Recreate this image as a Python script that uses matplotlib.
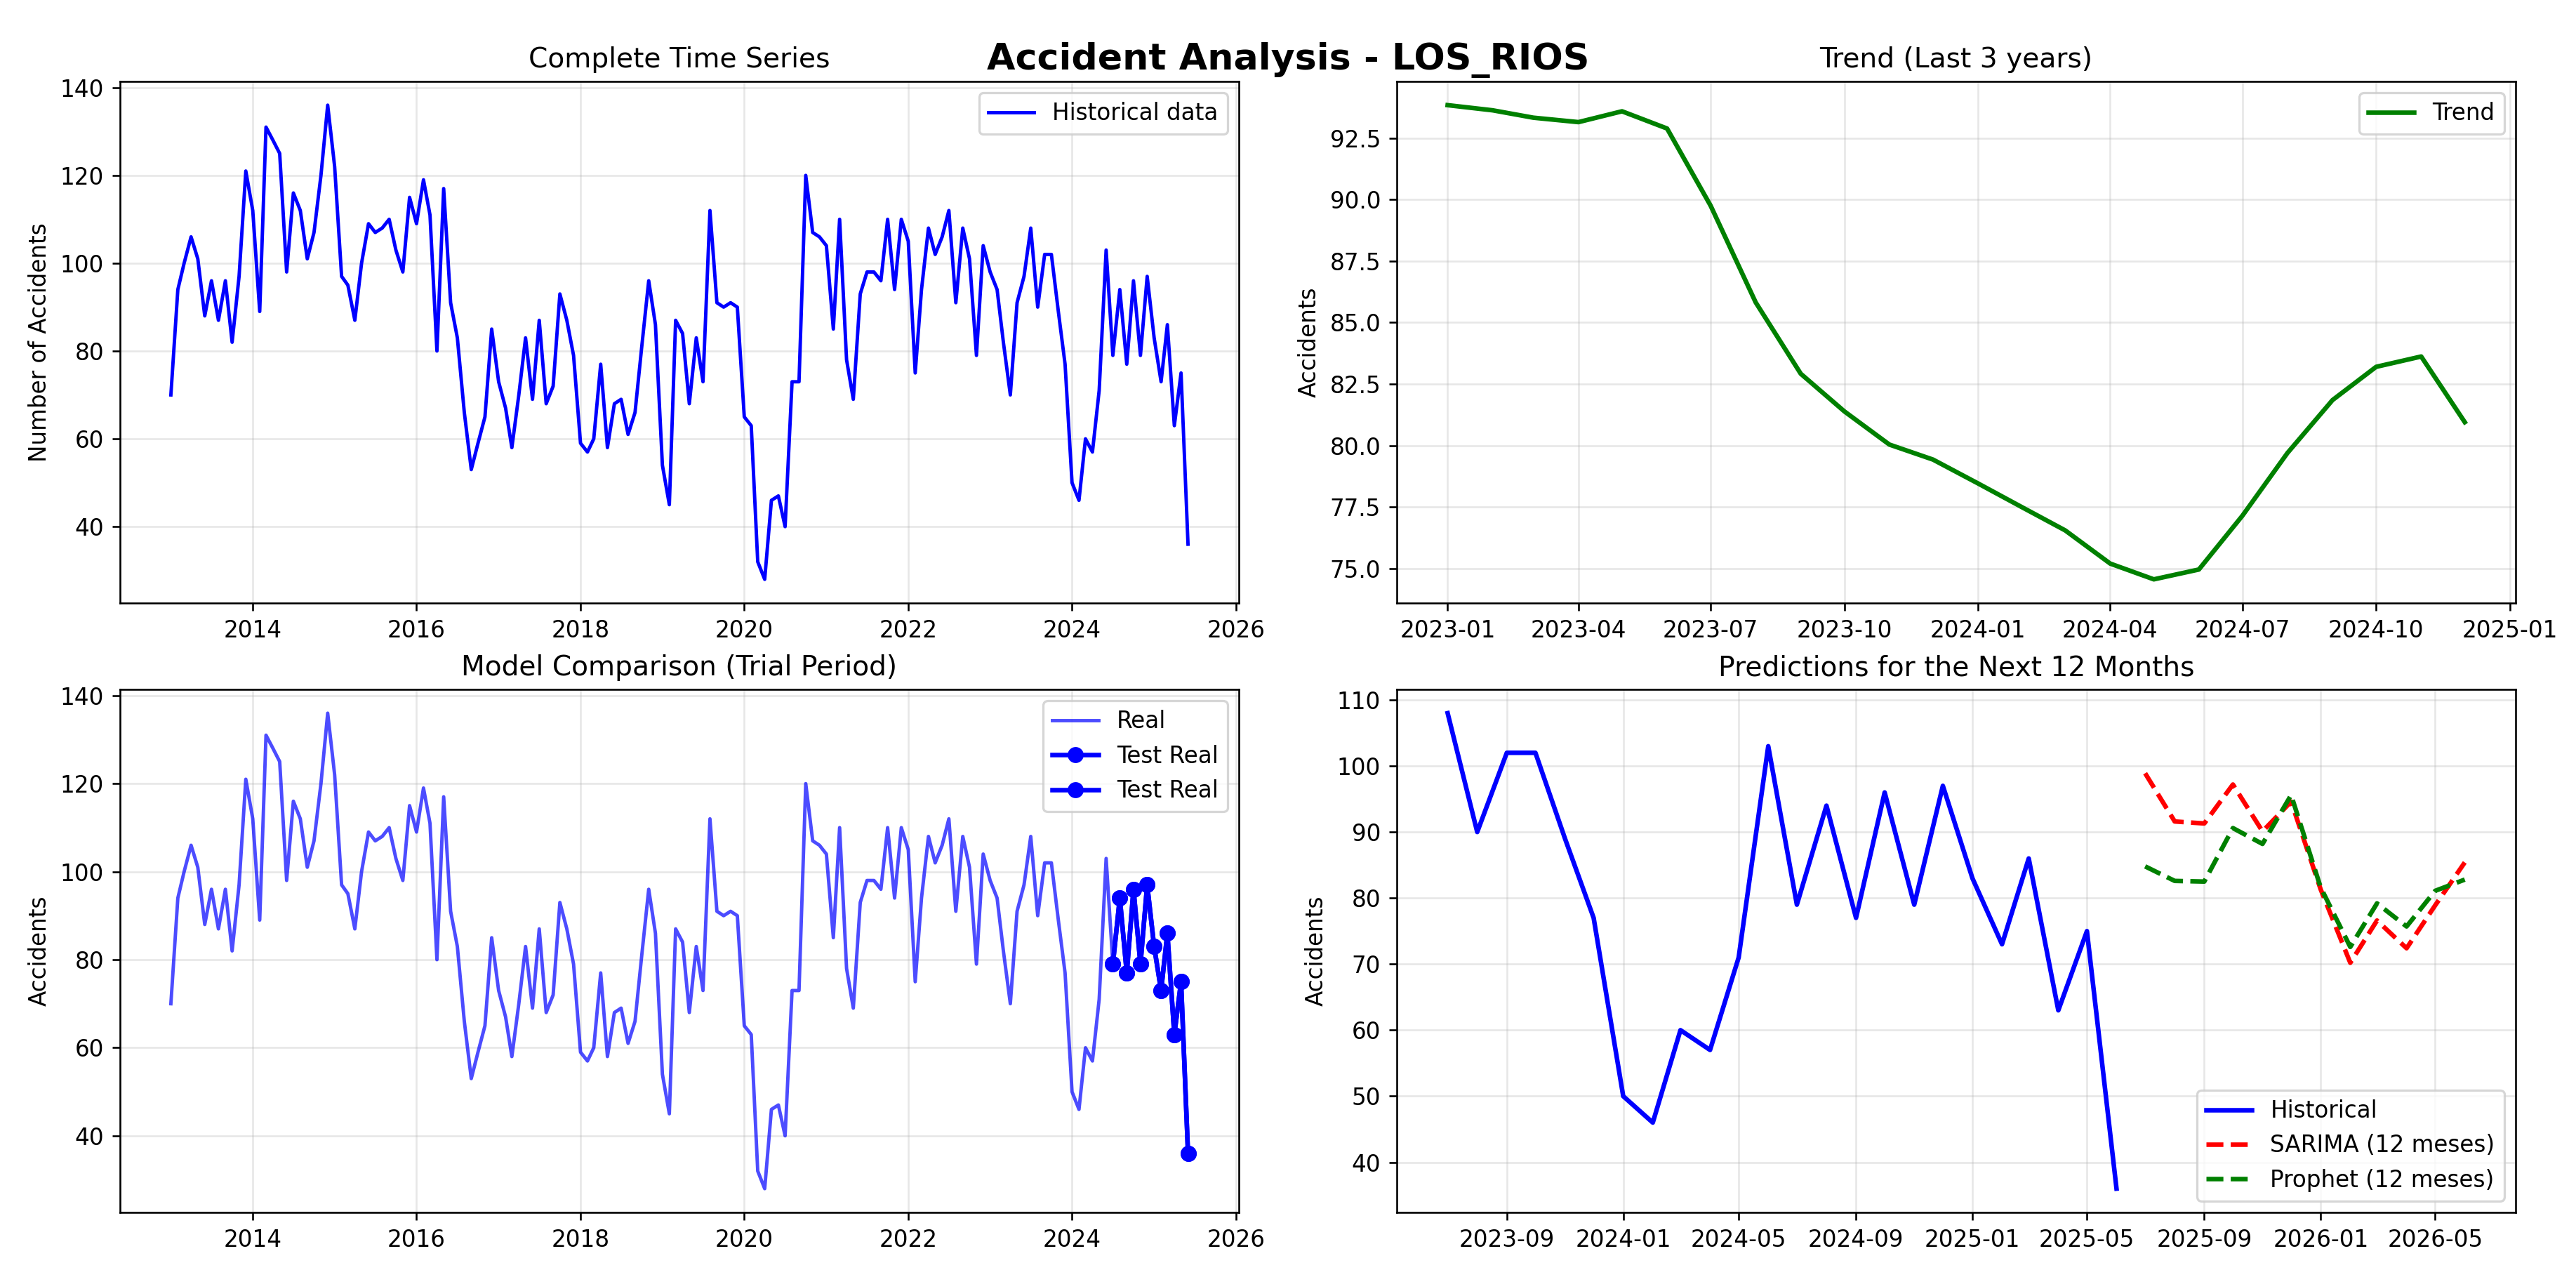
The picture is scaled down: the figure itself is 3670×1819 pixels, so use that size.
"""Accident analysis dashboard for LOS_RIOS."""

import matplotlib
matplotlib.use("Agg")
import matplotlib.pyplot as plt
import pandas as pd

# Monthly accident counts, 2013-01 .. 2025-06
accidents = [
    70, 94, 100, 106, 101, 88, 96, 87, 96, 82, 97, 121,
    112, 89, 131, 128, 125, 98, 116, 112, 101, 107, 120, 136,
    122, 97, 95, 87, 100, 109, 107, 108, 110, 103, 98, 115,
    109, 119, 111, 80, 117, 91, 83, 66, 53, 59, 65, 85,
    73, 67, 58, 70, 83, 69, 87, 68, 72, 93, 87, 79,
    59, 57, 60, 77, 58, 68, 69, 61, 66, 81, 96, 86,
    54, 45, 87, 84, 68, 83, 73, 112, 91, 90, 91, 90,
    65, 63, 32, 28, 46, 47, 40, 73, 73, 120, 107, 106,
    104, 85, 110, 78, 69, 93, 98, 98, 96, 110, 94, 110,
    105, 75, 94, 108, 102, 106, 112, 91, 108, 101, 79, 104,
    98, 94, 82, 70, 91, 97, 108, 90, 102, 102, 89, 77,
    50, 46, 60, 57, 71, 103, 79, 94, 77, 96, 79, 97,
    83, 73, 86, 63, 75, 36,
]
dates = pd.date_range("2013-01-01", periods=len(accidents), freq="MS")

# Trend component, 2023-01 .. 2024-12
trend = [
    93.84, 93.63, 93.33, 93.15, 93.59, 92.89, 89.75, 85.82, 82.92, 81.39, 80.04, 79.43,
    78.46, 77.47, 76.55, 75.20, 74.56, 74.96, 77.15, 79.70, 81.85, 83.20, 83.62, 80.95,
]
trend_dates = pd.date_range("2023-01-01", periods=len(trend), freq="MS")

# Test period: last 12 months
n_test = 12

# Forecasts, 2025-07 .. 2026-06
sarima = [98.9, 91.6, 91.3, 97.2, 90.1, 94.6, 81.3, 70.2, 76.6, 72.4, 78.9, 85.4]
prophet = [84.8, 82.6, 82.5, 90.6, 88.2, 95.6, 81.6, 72.6, 79.2, 75.7, 81.1, 82.8]
fc_dates = pd.date_range("2025-07-01", periods=len(sarima), freq="MS")

# Historical window shown with the forecast
n_hist = 24

W, H, DPI = 3670, 1819, 235
fig = plt.figure(figsize=(W / DPI, H / DPI), dpi=DPI)

left1, right1 = 171 / W, 1765 / W
left2, right2 = 1990 / W, 3584 / W
top_t, bot_t = 1 - 116 / H, 1 - 859 / H
top_b, bot_b = 1 - 982 / H, 1 - 1727 / H

ax1 = fig.add_axes([left1, bot_t, right1 - left1, top_t - bot_t])
ax2 = fig.add_axes([left2, bot_t, right2 - left2, top_t - bot_t])
ax3 = fig.add_axes([left1, bot_b, right1 - left1, top_b - bot_b])
ax4 = fig.add_axes([left2, bot_b, right2 - left2, top_b - bot_b])

fig.suptitle("Accident Analysis - LOS_RIOS", fontsize=16, fontweight="bold", y=0.967)

# Complete series
ax1.plot(dates, accidents, color="blue", linewidth=1.5, label="Historical data")
ax1.set_title("Complete Time Series")
ax1.set_ylabel("Number of Accidents")
ax1.legend(loc="upper right")
ax1.grid(True, alpha=0.3)

# Trend
ax2.plot(trend_dates, trend, color="green", linewidth=2, label="Trend")
ax2.set_title("Trend (Last 3 years)")
ax2.set_ylabel("Accidents")
ax2.legend(loc="upper right")
ax2.grid(True, alpha=0.3)

# Model comparison
ax3.plot(dates, accidents, color="blue", alpha=0.7, linewidth=1.5, label="Real")
ax3.plot(dates[-n_test:], accidents[-n_test:], "o-", color="blue", linewidth=2,
         markersize=6, label="Test Real")
ax3.plot(dates[-n_test:], accidents[-n_test:], "o-", color="blue", linewidth=2,
         markersize=6, label="Test Real")
ax3.set_title("Model Comparison (Trial Period)")
ax3.set_ylabel("Accidents")
ax3.legend(loc="upper right")
ax3.grid(True, alpha=0.3)

# Forecasts
ax4.plot(dates[-n_hist:], accidents[-n_hist:], color="blue", linewidth=2, label="Historical")
ax4.plot(fc_dates, sarima, "--", color="red", linewidth=2, label="SARIMA (12 meses)")
ax4.plot(fc_dates, prophet, "--", color="green", linewidth=2, label="Prophet (12 meses)")
ax4.set_title("Predictions for the Next 12 Months")
ax4.set_ylabel("Accidents")
ax4.legend(loc="lower right")
ax4.grid(True, alpha=0.3)

fig.savefig("out.png", dpi=DPI)
